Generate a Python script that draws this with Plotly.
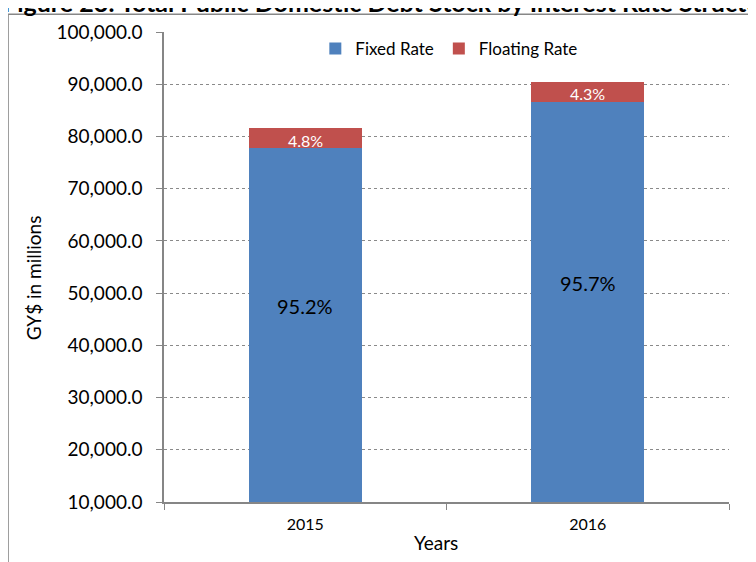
import plotly.graph_objects as go

years = ["2015", "2016"]
fixed_rate = [77700, 86600]
floating_rate = [3930, 3870]
fixed_labels = ["95.2%", "95.7%"]
floating_labels = ["4.8%", "4.3%"]
title_text = "Figure 23: Total Public Domestic Debt Stock by Interest Rate Structure"
y_min, y_max = 10000, 100000

BLUE = "#4F81BD"
RED = "#C0504D"
FONT = "Lato"

fig = go.Figure()
fig.add_trace(go.Bar(x=years, y=fixed_rate, name="Fixed Rate", marker=dict(color=BLUE, line=dict(width=0))))
fig.add_trace(go.Bar(x=years, y=floating_rate, name="Floating Rate", marker=dict(color=RED, line=dict(width=0))))

# data labels (x given as category serial number)
for i, (f, lab) in enumerate(zip(fixed_rate, fixed_labels)):
    fig.add_annotation(x=i, y=(y_min + f) / 2, text=lab, showarrow=False, yshift=19,
                       font=dict(family=FONT, size=20, color="black"))
for i, (f, fl, lab) in enumerate(zip(fixed_rate, floating_rate, floating_labels)):
    fig.add_annotation(x=i, y=f + fl / 2, text=lab, showarrow=False, yshift=-2,
                       font=dict(family=FONT, size=16, color="white"))

# title (cropped at the top as in the reference)
fig.add_annotation(xref="paper", yref="paper", x=-0.288, y=1.063, xanchor="left", yanchor="middle",
                   text="<b>" + title_text + "</b>", showarrow=False,
                   font=dict(family=FONT, size=25, color="black"))
# y-axis title
fig.add_annotation(xref="paper", yref="paper", x=-0.232, y=0.478, xanchor="center", yanchor="middle",
                   textangle=-90, text="GY$ in millions", showarrow=False,
                   font=dict(family=FONT, size=19, color="black"))
# x-axis title
fig.add_annotation(xref="paper", yref="paper", x=0.482, y=-0.086, xanchor="center", yanchor="middle",
                   text="Years", showarrow=False,
                   font=dict(family=FONT, size=19, color="black"))

# outer chart border (left and top edges visible)
fig.add_shape(type="line", xref="paper", yref="paper", x0=-0.276, x1=-0.276, y0=1.0379, y1=-0.2,
              line=dict(color="#878787", width=1.5))
fig.add_shape(type="line", xref="paper", yref="paper", x0=-0.276, x1=1.1, y0=1.0379, y1=1.0379,
              line=dict(color="#878787", width=1.5))

fig.update_layout(
    width=756, height=562,
    margin=dict(l=156, r=35, t=19, b=68),
    paper_bgcolor="white", plot_bgcolor="white",
    barmode="stack", bargap=0.6,
    font=dict(family=FONT, color="black"),
    showlegend=True,
    legend=dict(orientation="h", x=0.505, xanchor="center", y=0.964, yanchor="middle",
                bgcolor="rgba(0,0,0,0)", font=dict(family=FONT, size=17, color="black"),
                itemwidth=30, tracegroupgap=0, traceorder="normal"),
)
fig.update_xaxes(type="category", range=[-0.5, len(years) - 0.5], showline=True, linecolor="#868686",
                 linewidth=1.5, ticks="outside", tickson="boundaries", ticklen=6, tickcolor="#868686",
                 ticklabelstandoff=7,
                 showgrid=False, tickfont=dict(family=FONT, size=16, color="black"), mirror=False)
fig.update_yaxes(range=[y_min, y_max], dtick=10000, tickformat=",.1f",
                 showline=True, linecolor="#868686", linewidth=1.5, ticks="outside", ticklen=6,
                 tickcolor="#868686", ticklabelstandoff=10,
                 showgrid=True, gridcolor="#8a8a8a", griddash="dot", gridwidth=1,
                 zeroline=False, tickfont=dict(family=FONT, size=19, color="black"))

fig.write_html("out.html")
